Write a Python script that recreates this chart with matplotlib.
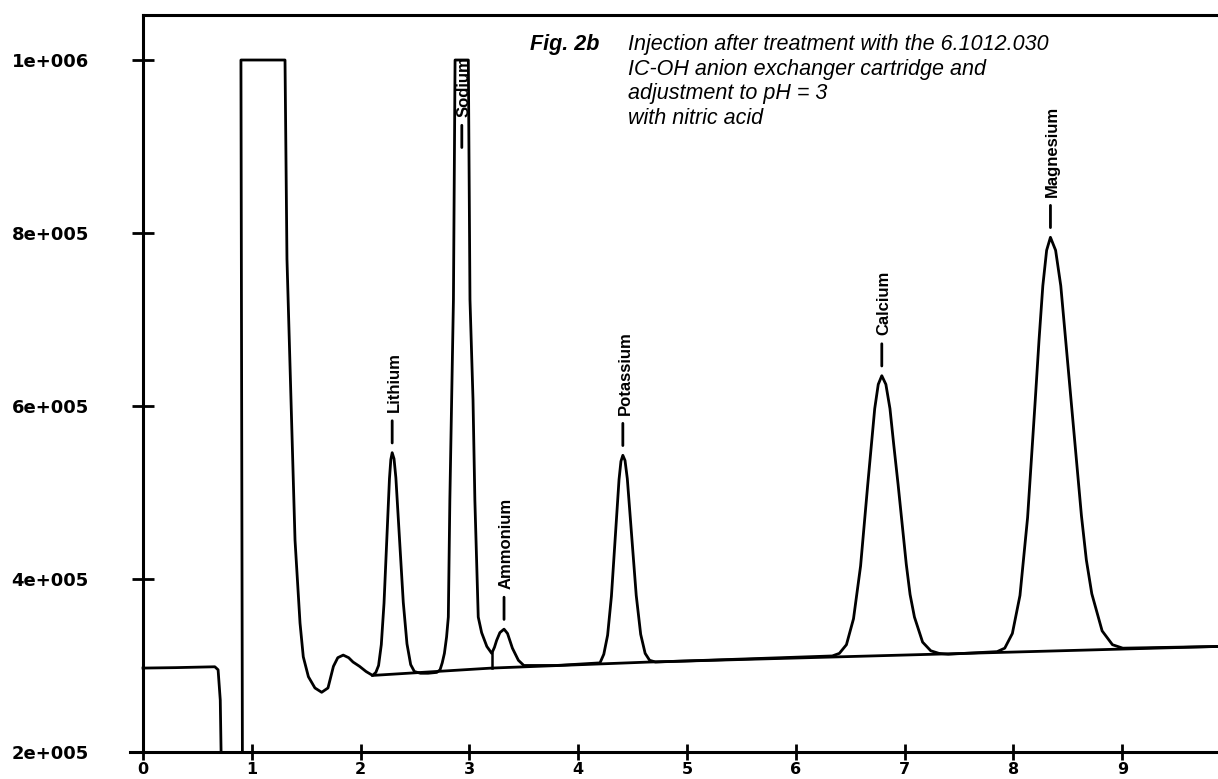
import numpy as np
import matplotlib.pyplot as plt
from matplotlib.transforms import offset_copy

# Detector trace (time in min, signal in units of 1e5)
trace_t = [0.00, 0.30, 0.66, 0.69, 0.71, 0.73, 0.915, 0.90, 1.305, 1.323, 1.397, 1.443,
           1.473, 1.52, 1.58, 1.642, 1.70, 1.75, 1.79, 1.84, 1.89, 1.93, 1.99, 2.05, 2.11,
           # Lithium
           2.14, 2.165, 2.19, 2.215, 2.24, 2.265, 2.2775, 2.29, 2.307, 2.324, 2.358, 2.392,
           2.426, 2.46, 2.494, 2.55, 2.62,
           # Sodium
           2.70, 2.73, 2.75, 2.77, 2.79, 2.806, 2.82, 2.836, 2.853, 2.868, 2.99, 3.005,
           3.033, 3.05, 3.081, 3.112, 3.16, 3.205,
           # Ammonium
           3.23, 3.25, 3.28, 3.318, 3.35, 3.395, 3.45, 3.50, 3.80,
           # Potassium
           4.20, 4.235, 4.27, 4.305, 4.34, 4.375, 4.3925, 4.41, 4.43, 4.451, 4.492, 4.533,
           4.574, 4.615, 4.656, 4.71,
           # Calcium
           6.335, 6.40, 6.465, 6.53, 6.595, 6.66, 6.725, 6.7575, 6.79, 6.8275, 6.865, 6.90,
           6.94, 6.98, 7.015, 7.05, 7.09, 7.165, 7.24, 7.315, 7.40,
           # Magnesium
           7.85, 7.92, 7.99, 8.06, 8.13, 8.165, 8.20, 8.235, 8.27, 8.305, 8.34, 8.3875,
           8.435, 8.48, 8.53, 8.58, 8.625, 8.67, 8.72, 8.815, 8.91, 9.005, 9.88]
trace_v = [2.97, 2.975, 2.985, 2.95, 2.60, 1.00, 1.00, 10.0, 10.0, 7.70, 4.45, 3.49,
           3.10, 2.87, 2.74, 2.69, 2.74, 2.99, 3.09, 3.12, 3.09, 3.04, 2.99, 2.93, 2.885,
           2.92, 3.00, 3.24, 3.72, 4.45, 5.16, 5.38, 5.46, 5.39, 5.17, 4.46, 3.73,
           3.25, 3.01, 2.93, 2.91, 2.91,
           2.92, 2.95, 3.03, 3.14, 3.33, 3.56, 4.91, 6.07, 7.23, 10.0, 10.0, 7.23,
           6.07, 4.91, 3.56, 3.38, 3.22, 3.14,
           3.21, 3.29, 3.38, 3.42, 3.37, 3.20, 3.06, 3.00, 3.00,
           3.03, 3.13, 3.35, 3.80, 4.48, 5.15, 5.36, 5.43, 5.37, 5.16, 4.49, 3.81,
           3.36, 3.14, 3.06, 3.04,
           3.11, 3.14, 3.24, 3.54, 4.15, 5.08, 5.97, 6.25, 6.35, 6.25, 5.97, 5.55,
           5.09, 4.60, 4.17, 3.82, 3.56, 3.27, 3.17, 3.14, 3.13,
           3.16, 3.20, 3.37, 3.81, 4.71, 5.38, 6.06, 6.76, 7.39, 7.80, 7.95, 7.80,
           7.39, 6.76, 6.07, 5.36, 4.73, 4.22, 3.83, 3.40, 3.24, 3.20, 3.22]

# integration baseline and the drop line between sodium and ammonium
base_t = [2.11, 3.205, 4.66, 9.88]
base_v = [2.885, 2.97, 3.04, 3.22]
drop_t = [3.205, 3.205]
drop_v = [3.14, 2.97]

# peaks (retention time, apex signal in 1e5; sodium is off scale)
peak_names = ['Lithium', 'Sodium', 'Ammonium', 'Potassium', 'Calcium', 'Magnesium']
peak_times = [2.29, 2.93, 3.318, 4.41, 6.79, 8.34]
peak_heights = [5.46, 10.0, 3.42, 5.43, 6.35, 7.95]

y_ticks = [2e5, 4e5, 6e5, 8e5, 1e6]
y_labels = ['2e+005', '4e+005', '6e+005', '8e+005', '1e+006']
x_ticks = [0, 1, 2, 3, 4, 5, 6, 7, 8, 9]

fig = plt.figure(figsize=(12.18, 7.79), dpi=100)
ax = fig.add_axes([0.1067, 0.0347, 0.8933, 0.946])

ax.plot(trace_t, np.array(trace_v) * 1e5, color='black', lw=2.0, solid_joinstyle='round')
ax.plot(base_t, np.array(base_v) * 1e5, color='black', lw=2.0)
ax.plot(drop_t, np.array(drop_v) * 1e5, color='black', lw=1.8)

ax.set_xlim(-0.12, 9.88)
ax.set_ylim(2e5, 1.052e6)

# axes frame like the plotter output
ax.spines['right'].set_visible(False)
ax.spines['left'].set_position(('data', 0))
ax.spines['top'].set_bounds(0, 9.88)
for s in ['left', 'top', 'bottom']:
    ax.spines[s].set_linewidth(2.2)

ax.set_yticks(y_ticks)
ax.set_yticklabels(y_labels)
ax.set_xticks(x_ticks)
ax.set_xticklabels([str(v) for v in x_ticks])
ax.tick_params(axis='y', direction='inout', length=16, width=2, pad=31,
               labelsize=13)
ax.tick_params(axis='x', direction='inout', length=11, width=2, pad=2,
               labelsize=11.5)
for lab in ax.get_xticklabels() + ax.get_yticklabels():
    lab.set_fontweight('bold')
    lab.set_family('DejaVu Sans')

# peak labels with the small marker dash above each apex
label_shift = {'Sodium': -70}
for name, t, h in zip(peak_names, peak_times, peak_heights):
    sh = label_shift.get(name, 0)
    lo = offset_copy(ax.transData, fig=fig, x=0, y=7 + sh, units='points')
    hi = offset_copy(ax.transData, fig=fig, x=0, y=23 + sh, units='points')
    ax.annotate('', xy=(t, h * 1e5), xycoords=lo, xytext=(t, h * 1e5), textcoords=hi,
                arrowprops=dict(arrowstyle='-', lw=2, color='black', shrinkA=0, shrinkB=0))
    ax.annotate(name, xy=(t, h * 1e5), xytext=(1.5, 29 + sh), textcoords='offset points',
                rotation=90, ha='center', va='bottom', fontsize=12, fontweight='bold',
                family=['Liberation Sans', 'DejaVu Sans'])

# caption
fig.text(530 / 1218, 1 - 50 / 779, 'Fig. 2b', fontsize=15.5, fontweight='bold',
         style='italic', family=['Liberation Sans', 'DejaVu Sans'], va='baseline')
caption = ['Injection after treatment with the 6.1012.030',
           'IC-OH anion exchanger cartridge and',
           'adjustment to pH = 3',
           'with nitric acid']
for i, line in enumerate(caption):
    fig.text(628 / 1218, 1 - (50 + 24.5 * i) / 779, line, fontsize=15.5, style='italic',
             family=['Liberation Sans', 'DejaVu Sans'], va='baseline')

fig.savefig('out.png', dpi=100)
